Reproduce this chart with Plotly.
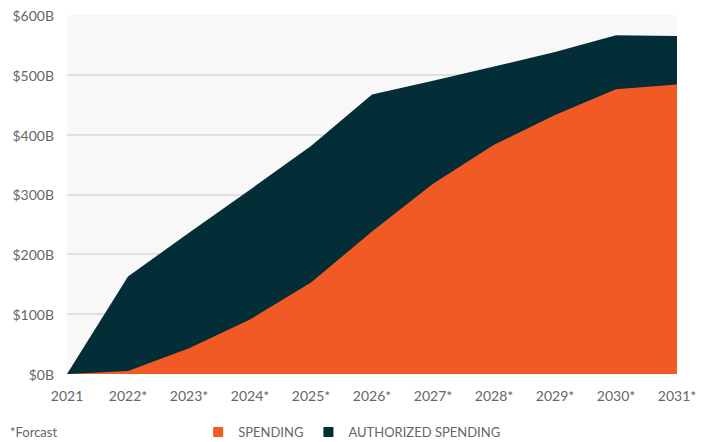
import plotly.graph_objects as go

years = ["2021", "2022*", "2023*", "2024*", "2025*", "2026*", "2027*", "2028*", "2029*", "2030*", "2031*"]
spending = [0, 5, 43, 91, 153, 238, 318, 383, 433, 476, 484]
authorized = [0, 163, 236, 308, 381, 467, 490, 514, 538, 566, 565]
y_ticks = [0, 100, 200, 300, 400, 500, 600]
y_labels = ["$0B", "$100B", "$200B", "$300B", "$400B", "$500B", "$600B"]

ORANGE = "#F15A24"
DARK = "#032E37"
FONT = "Lato"
GREY = "#666666"

xs = list(range(len(years)))

fig = go.Figure()
fig.add_trace(go.Scatter(x=xs, y=authorized, fill="tozeroy", mode="none",
                         fillcolor=DARK, showlegend=False, hoverinfo="skip"))
fig.add_trace(go.Scatter(x=xs, y=spending, fill="tozeroy", mode="none",
                         fillcolor=ORANGE, showlegend=False, hoverinfo="skip"))
fig.add_trace(go.Scatter(x=[None], y=[None], mode="markers", name="SPENDING",
                         marker=dict(symbol="square", size=10, color=ORANGE)))
fig.add_trace(go.Scatter(x=[None], y=[None], mode="markers", name="AUTHORIZED SPENDING",
                         marker=dict(symbol="square", size=10, color=DARK)))

# the page body has an 8px default margin; the margins compensate for it
fig.update_layout(
    width=707, height=442,
    margin=dict(l=59, r=38, t=7, b=76, autoexpand=False),
    paper_bgcolor="white",
    plot_bgcolor="#F8F8F8",
    font=dict(family=FONT, size=14, color=GREY),
    showlegend=True,
    legend=dict(orientation="h", x=0.215, xanchor="left", y=-0.162, yanchor="middle",
                font=dict(family=FONT, size=13, color=GREY),
                itemwidth=30, tracegroupgap=0, bgcolor="rgba(0,0,0,0)"),
    xaxis=dict(range=[0, len(years) - 1], tickmode="array", tickvals=xs, ticktext=years,
               showgrid=False, zeroline=False, showline=False, ticks="",
               ticklabelstandoff=12, automargin=False, ticklabeloverflow="allow",
               tickfont=dict(family=FONT, size=14, color=GREY)),
    yaxis=dict(range=[0, 600], tickmode="array", tickvals=y_ticks, ticktext=y_labels,
               showgrid=True, gridcolor="#E0E0E0", gridwidth=1.5, zeroline=False,
               showline=False, ticks="", ticklabelstandoff=12, automargin=False,
               ticklabeloverflow="allow", ticklabelshift=1,
               tickfont=dict(family=FONT, size=14, color=GREY)),
    annotations=[dict(text="*Forcast", xref="paper", yref="paper", x=-0.0967, y=-0.162,
                      xanchor="left", yanchor="middle", showarrow=False,
                      font=dict(family=FONT, size=13, color=GREY))],
)

fig.write_html("out.html")
